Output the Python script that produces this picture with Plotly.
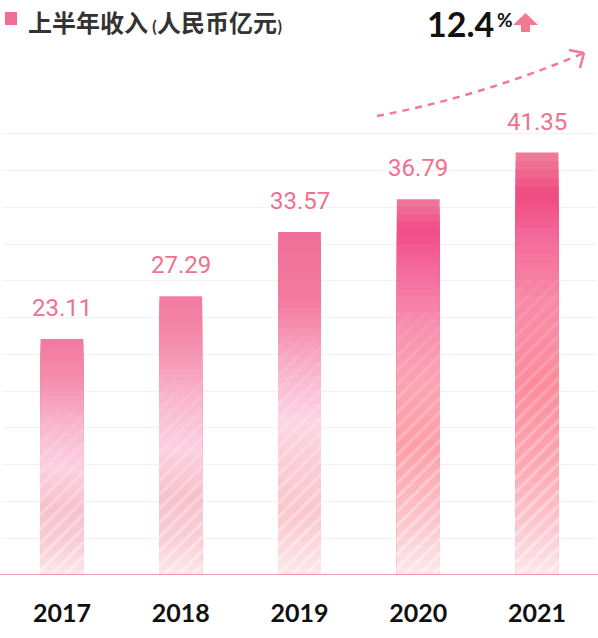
import plotly.graph_objects as go

# ---- data ----
years = ["2017", "2018", "2019", "2020", "2021"]
revenue = [23.11, 27.29, 33.57, 36.79, 41.35]
value_labels = ["23.11", "27.29", "33.57", "36.79", "41.35"]
growth_label = "12.4"
title_main = "上半年收入"
title_unit = "人民币亿元"

W, H = 598, 638


def PX(x):
    return x / W


def PY(y):
    return 1 - y / H


def hex2rgb(h):
    h = h.lstrip("#")
    return [int(h[i:i + 2], 16) for i in (0, 2, 4)]


def interp(stops, f):
    for (f0, c0), (f1, c1) in zip(stops[:-1], stops[1:]):
        if f0 <= f <= f1:
            t = 0 if f1 == f0 else (f - f0) / (f1 - f0)
            a, b = hex2rgb(c0), hex2rgb(c1)
            return "rgb(%d,%d,%d)" % tuple(round(a[k] + (b[k] - a[k]) * t) for k in range(3))
    return stops[-1][1]


# gradient profiles (fraction from top of bar -> colour)
light = [(0, "#f27aa0"), (0.15, "#f48aac"), (0.38, "#f9b8ce"), (0.55, "#fbd0e0"),
         (0.72, "#f7c0cb"), (0.88, "#f9cfd5"), (1.0, "#fde8ec")]
light2 = [(0, "#f0709a"), (0.2, "#f27a9f"), (0.4, "#f8b2ca"), (0.55, "#fcd5e4"),
          (0.68, "#fbcdd5"), (0.82, "#fac6cb"), (1.0, "#fde8ec")]
strong = [(0, "#ef7a9c"), (0.08, "#f04c86"), (0.2, "#f56da0"), (0.35, "#f892b0"),
          (0.5, "#fba4b2"), (0.66, "#fc9fa8"), (0.86, "#fcc6cc"), (1.0, "#fde8ec")]
strong2 = [(0, "#ef809a"), (0.1, "#ef4a82"), (0.2, "#f46a9a"), (0.35, "#f88aa8"),
           (0.55, "#fc8c9c"), (0.75, "#fdaab4"), (0.9, "#fdcbd2"), (1.0, "#fde8ec")]
profiles = [light, light, light2, strong, strong2]

N = 50
fig = go.Figure()
for i, (yr, v) in enumerate(zip(years, revenue)):
    for j in range(N):
        frac_top = j / N          # fraction from top where this band starts
        frac_mid = (j + 0.5) / N
        col = interp(profiles[i], frac_mid)
        op = 0.0 if frac_mid < 0.3 else min(0.45, 0.05 + (frac_mid - 0.3) / 0.7 * 0.4)
        pattern = None
        if op > 0:
            pattern = dict(shape="/", fillmode="overlay", fgcolor="white",
                           fgopacity=round(op, 3), size=10, solidity=0.3)
        fig.add_trace(go.Bar(
            x=[yr], y=[v * (1 - frac_top)], uid="bar%d_%d" % (i, j),
            marker=dict(color=col, line=dict(width=0), pattern=pattern),
            hoverinfo="skip", showlegend=False,
        ))

# value labels (x given as category index)
for i, (v, t) in enumerate(zip(revenue, value_labels)):
    fig.add_annotation(x=i, y=v, text=t, showarrow=False, yanchor="middle", yshift=31,
                       font=dict(family="Roboto", size=24, color="#f0708f"))

# title
fig.add_shape(type="rect", xref="paper", yref="paper",
              x0=PX(5), x1=PX(17), y0=PY(25), y1=PY(12),
              fillcolor="#f26e92", line=dict(width=0))
fig.add_annotation(xref="paper", yref="paper", x=PX(26), y=PY(21), xanchor="left",
                   yanchor="middle", showarrow=False,
                   text=title_main + "<span style='font-size:15px'> (</span>" + title_unit +
                   "<span style='font-size:15px'>) </span>",
                   font=dict(family="Noto Sans CJK SC", size=24, color="#333333", weight="bold"))

# growth
fig.add_annotation(xref="paper", yref="paper", x=PX(496), y=PY(23), xanchor="right",
                   yanchor="middle", showarrow=False, text=growth_label,
                   font=dict(family="Lato", size=34, color="#111111", weight="bold"))
fig.add_annotation(xref="paper", yref="paper", x=PX(495), y=PY(20), xanchor="left",
                   yanchor="middle", showarrow=False, text="%",
                   font=dict(family="Lato", size=19, color="#111111", weight="bold"))
arrow_pts = [(525.5, 13), (513, 25), (521, 25), (521, 32), (530, 32), (530, 25), (538, 25)]
path = "M " + " L ".join("%f,%f" % (PX(x), PY(y)) for x, y in arrow_pts) + " Z"
fig.add_shape(type="path", xref="paper", yref="paper", path=path,
              fillcolor="#f27a90", line=dict(width=0))

# dashed trend arrow
p0, c, p2 = (377, 116), (479, 97), (584, 53)
curve = "M %f,%f Q %f,%f %f,%f" % (PX(p0[0]), PY(p0[1]), PX(c[0]), PY(c[1]), PX(p2[0]), PY(p2[1]))
fig.add_shape(type="path", xref="paper", yref="paper", path=curve,
              line=dict(color="#f27a98", width=2.5, dash="7px,6px"))
for q in [(569, 50), (580, 68)]:
    fig.add_shape(type="line", xref="paper", yref="paper",
                  x0=PX(p2[0]), y0=PY(p2[1]), x1=PX(q[0]), y1=PY(q[1]),
                  line=dict(color="#f27a98", width=2.5))

# baseline
fig.add_shape(type="line", xref="paper", yref="y", x0=0, x1=1, y0=0, y1=0,
              line=dict(color="#f27a95", width=1.5), layer="above")

fig.update_layout(
    width=W, height=H,
    margin=dict(l=0, r=0, t=0, b=0),
    barmode="overlay", bargap=0.64,
    paper_bgcolor="white", plot_bgcolor="white",
    xaxis=dict(type="category", domain=[PX(2.6), PX(596.4)], range=[-0.5, 4.5],
               categoryorder="array", categoryarray=years,
               showgrid=False, zeroline=False, showline=False, ticks="",
               ticklabelstandoff=21,
               tickfont=dict(family="Lato", size=25, color="#111111", weight="bold")),
    yaxis=dict(domain=[PY(575), PY(100)], range=[0, 46.5], dtick=3.6,
               showgrid=True, gridcolor="#f5f2ee", gridwidth=1,
               zeroline=False, showticklabels=False, ticks=""),
)

fig.write_html("out.html")
